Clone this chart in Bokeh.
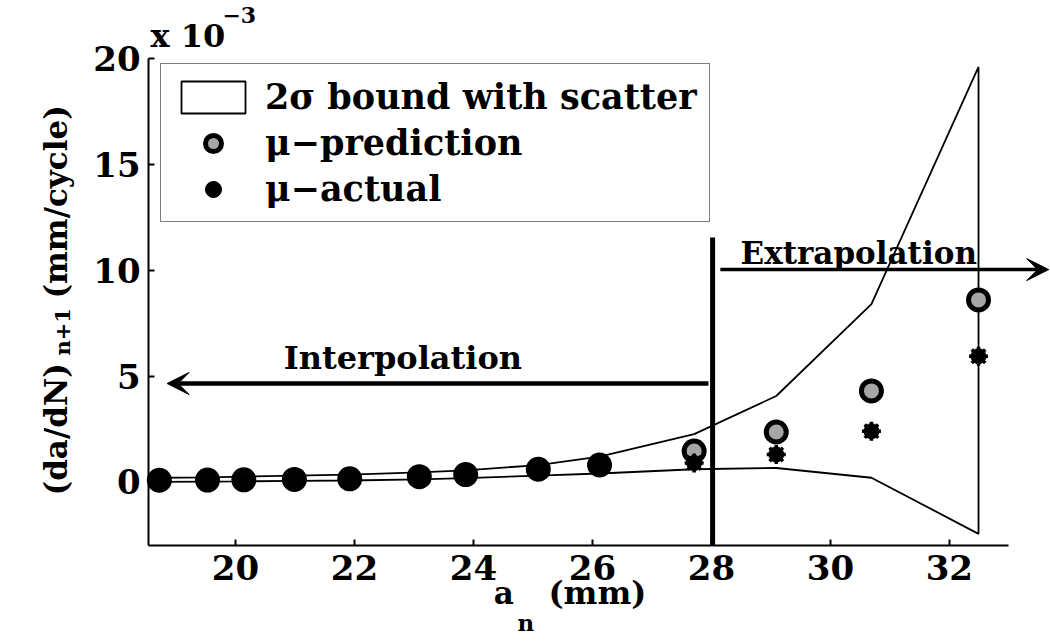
import math
from bokeh.plotting import figure
from bokeh.models import Range1d, Label, Arrow, VeeHead, Legend, LegendItem, FixedTicker
from bokeh.core.properties import value
from bokeh.embed import file_html
from bokeh.resources import INLINE

# ---- data (y values in units of 1e-3 mm/cycle) ----
crack_length = [18.72, 19.53, 20.14, 20.99, 21.92, 23.09, 23.87, 25.09, 26.12, 27.71, 29.09, 30.69, 32.49]
mu_prediction = [0.08, 0.09, 0.10, 0.12, 0.15, 0.25, 0.35, 0.60, 0.80, 1.46, 2.36, 4.30, 8.60]
mu_actual = [0.08, 0.09, 0.10, 0.12, 0.15, 0.25, 0.35, 0.60, 0.80, 0.90, 1.30, 2.40, 5.94]
upper_bound = [0.20, 0.22, 0.25, 0.30, 0.35, 0.45, 0.55, 0.80, 1.20, 2.26, 4.06, 8.40, 19.60]
lower_bound = [0.00, 0.02, 0.03, 0.05, 0.07, 0.12, 0.18, 0.30, 0.40, 0.60, 0.66, 0.20, -2.45]
x_ticks = [20, 22, 24, 26, 28, 30, 32]
y_ticks = [0, 5, 10, 15, 20]
split_at = 28.02
x_axis_span = (18.54, 33.0)
y_axis_span = (-3, 20)

FONT = "DejaVu Serif"

p = figure(width=1050, height=641, output_backend="svg", toolbar_location=None,
           x_range=Range1d(16.05, 33.70), y_range=Range1d(-7.535, 22.74),
           min_border_left=0, min_border_right=0, min_border_top=0, min_border_bottom=0)
p.outline_line_color = None
p.grid.visible = False
p.background_fill_color = "white"

for ax in (p.xaxis[0], p.yaxis[0]):
    ax.axis_line_width = 2
    ax.axis_line_color = "black"
    ax.major_tick_in = 6
    ax.major_tick_out = 0
    ax.minor_tick_line_color = None
    ax.major_tick_line_width = 2
    ax.major_label_text_font = FONT
    ax.major_label_text_font_style = "bold"
    ax.major_label_text_font_size = "34px"
    ax.major_label_text_color = "black"
p.xaxis.ticker = FixedTicker(ticks=x_ticks)
p.yaxis.ticker = FixedTicker(ticks=y_ticks)
p.xaxis.bounds = x_axis_span
p.yaxis.bounds = y_axis_span
p.xaxis.fixed_location = y_axis_span[0]
p.yaxis.fixed_location = x_axis_span[0]
p.xaxis.major_label_standoff = 10
p.yaxis.major_label_standoff = 8

# band
band_x = crack_length + crack_length[::-1]
band_y = upper_bound + lower_bound[::-1]
band = p.patch(band_x, band_y, fill_color="white", fill_alpha=1.0, line_color="black", line_width=1.8)

pred = p.scatter(crack_length, mu_prediction, marker="circle", size=20, fill_color="#a6a6a6",
                 line_color="black", line_width=5)
act_c = p.scatter(crack_length, mu_actual, marker="circle", size=15, fill_color="black", line_color="black")
act_a = p.scatter(crack_length, mu_actual, marker="asterisk", size=19, line_color="black", line_width=3.5)

# split line and arrows
p.segment(x0=[split_at], y0=[y_axis_span[0]], x1=[split_at], y1=[11.55], line_color="black", line_width=5)
p.add_layout(Arrow(x_start=27.95, y_start=4.65, x_end=18.85, y_end=4.65, line_width=4.5,
                   end=VeeHead(size=22, fill_color="black", line_color="black", line_width=1)))
p.add_layout(Arrow(x_start=28.15, y_start=10.03, x_end=33.67, y_end=10.03, line_width=3.5,
                   end=VeeHead(size=22, fill_color="black", line_color="black", line_width=1)))

def lab(x, y, text, size, angle=0.0):
    p.add_layout(Label(x=x, y=y, text=text, text_font=FONT, text_font_style="bold",
                       text_font_size=size, text_color="black", angle=angle,
                       text_align="left", text_baseline="alphabetic"))

lab(20.81, 5.85, "Interpolation", "32px")
lab(28.49, 10.80, "Extrapolation", "31px")

# exponent
lab(18.57, 21.05, "x 10", "32px")
lab(19.78, 22.05, "\u22123", "22px")

# x label
lab(24.34, -5.25, "a", "31px")
lab(24.74, -6.62, "n", "23px")
lab(25.26, -5.25, "(mm)", "32px")

# y label (rotated)
lab(16.98, -0.64, "(da/dN)", "31px", math.pi / 2)
lab(17.10, 5.97, "n+1", "21px", math.pi / 2)
lab(16.98, 8.66, "(mm/cycle)", "31px", math.pi / 2)

legend = Legend(items=[
    LegendItem(label=value("2\u03c3 bound with scatter"), renderers=[band]),
    LegendItem(label=value("\u03bc\u2212prediction"), renderers=[pred]),
    LegendItem(label=value("\u03bc\u2212actual"), renderers=[act_c, act_a]),
], location=(160, 419))
legend.margin = 0
legend.padding = 12
legend.spacing = 5
legend.glyph_width = 80
legend.glyph_height = 40
legend.label_height = 40
legend.label_standoff = 12
legend.label_text_font = FONT
legend.label_text_font_style = "bold"
legend.label_text_font_size = "35px"
legend.label_text_color = "black"
legend.border_line_color = "black"
legend.border_line_width = 1.5
legend.background_fill_color = "white"
legend.background_fill_alpha = 1.0
p.add_layout(legend, "center")

open("out.html", "w").write(file_html(p, INLINE))
